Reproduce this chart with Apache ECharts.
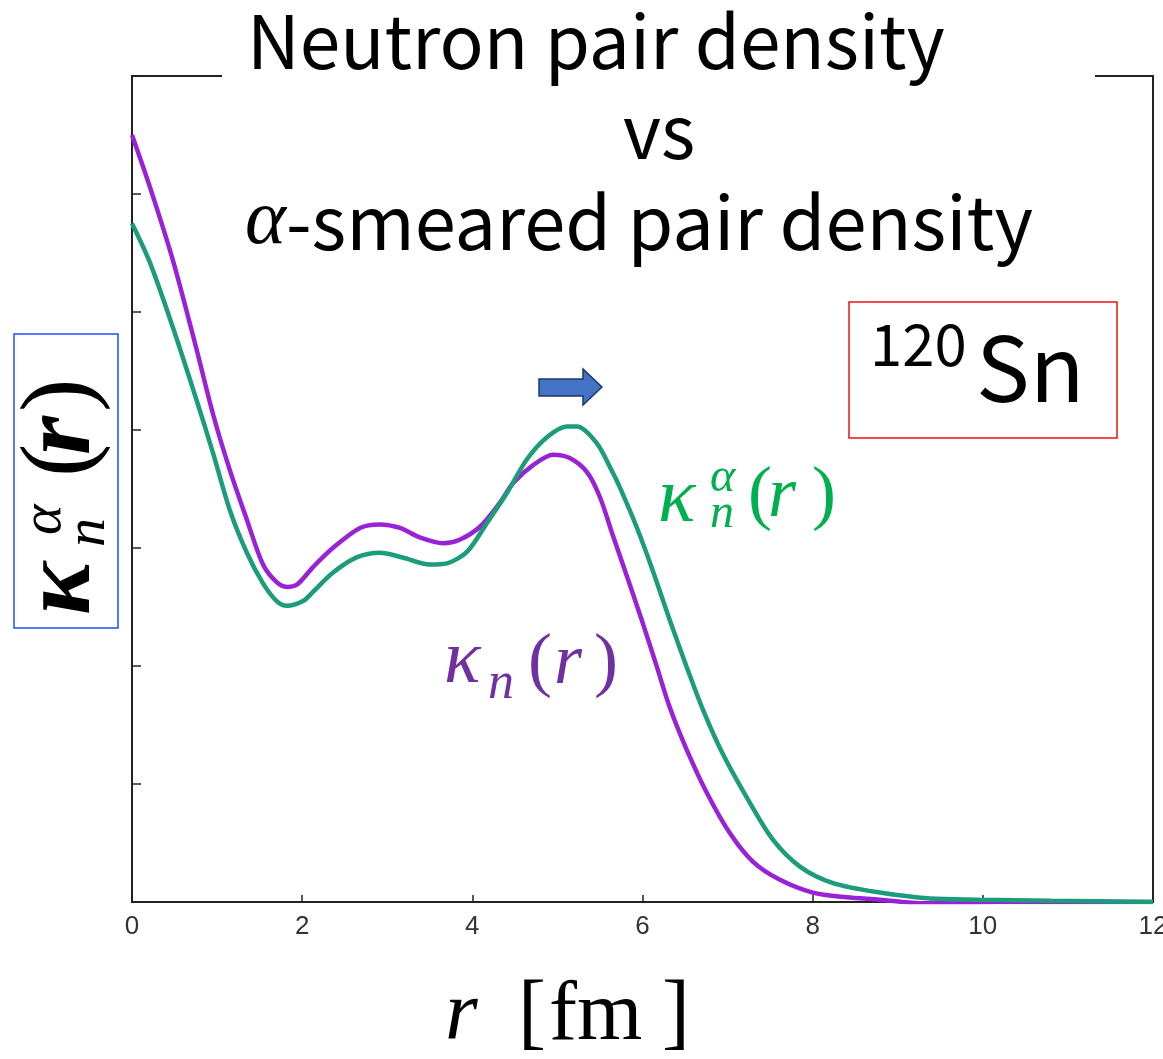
<!DOCTYPE html>
<html>
<head>
<meta charset="utf-8">
<script src="https://cdn.jsdelivr.net/npm/echarts@6/dist/echarts.min.js"></script>
<style>
html,body{margin:0;padding:0;background:#fff;}
#chart{width:1163px;height:1059px;}
</style>
</head>
<body>
<div id="chart"></div>
<script>
// Neutron pair density kappa_n(r)  (purple)
const rPair = [0, 0.21, 0.48, 0.76, 0.95, 1.15, 1.35, 1.54, 1.70, 1.82, 1.94, 2.13, 2.36, 2.68, 2.91, 3.15, 3.38, 3.66, 3.85, 4.09, 4.32, 4.48, 4.71, 4.95, 5.15, 5.35, 5.50, 5.65, 5.85, 6.00, 6.17, 6.32, 6.52, 6.76, 7.03, 7.30, 7.61, 8.00, 8.40, 8.79, 9.26, 9.73, 10.2, 11.0, 12.0];
const kappaN = [6.50, 6.06, 5.44, 4.68, 4.14, 3.66, 3.24, 2.86, 2.71, 2.67, 2.69, 2.84, 3.00, 3.17, 3.20, 3.17, 3.09, 3.04, 3.07, 3.18, 3.38, 3.55, 3.70, 3.79, 3.76, 3.64, 3.43, 3.11, 2.69, 2.37, 1.99, 1.65, 1.29, 0.92, 0.58, 0.34, 0.19, 0.08, 0.04, 0.02, -0.01, -0.01, 0.0, 0.0, 0.0];
// alpha-smeared pair density kappa_n^alpha(r)  (green)
const rSmeared = [0, 0.21, 0.48, 0.76, 0.95, 1.15, 1.35, 1.54, 1.70, 1.82, 2.01, 2.13, 2.36, 2.64, 2.91, 3.18, 3.50, 3.70, 3.94, 4.17, 4.41, 4.64, 4.88, 5.11, 5.23, 5.46, 5.65, 5.73, 5.93, 6.12, 6.32, 6.52, 6.71, 6.94, 7.23, 7.53, 7.85, 8.24, 8.79, 9.38, 9.96, 10.8, 12.0];
const kappaAlpha = [5.75, 5.42, 4.87, 4.25, 3.81, 3.32, 2.96, 2.70, 2.55, 2.51, 2.55, 2.63, 2.79, 2.92, 2.96, 2.92, 2.86, 2.87, 2.97, 3.21, 3.47, 3.75, 3.94, 4.03, 4.03, 3.89, 3.64, 3.52, 3.18, 2.81, 2.39, 1.99, 1.63, 1.26, 0.88, 0.53, 0.30, 0.16, 0.08, 0.03, 0.02, 0.01, 0.0];
const xTicks = [0, 2, 4, 6, 8, 10, 12];

const chart = echarts.init(document.getElementById('chart'));
const serif = '"Liberation Serif", "DejaVu Serif", serif';
const sans = '"Noto Sans CJK JP", "Noto Sans", sans-serif';

function txt(x, y, text, size, color, opts) {
  return Object.assign({
    type: 'text', x: x, y: y, z: 110,
    style: Object.assign({text: text, fontSize: size, fill: color, fontFamily: serif,
      align: 'left', verticalAlign: 'middle'}, (opts && opts.style) || {})
  }, (opts && opts.el) || {});
}
const it = {style: {fontStyle: 'italic'}};
const bi = {style: {fontStyle: 'italic', fontWeight: 'bold'}};

const option = {
  backgroundColor: '#fff',
  animation: false,
  grid: {left: 132, right: 10, top: 76, bottom: 157, show: true, borderColor: '#222', borderWidth: 2,
    containLabel: false, outerBoundsMode: 'none'},
  xAxis: {
    type: 'value', min: 0, max: 12, interval: 2,
    axisLine: {show: true, lineStyle: {color: '#222', width: 2}},
    axisTick: {show: true, inside: true, length: 7, lineStyle: {color: '#222', width: 1.5}},
    axisLabel: {color: '#333', fontSize: 26, fontFamily: '"Liberation Sans", Arial, sans-serif', margin: 12,
      formatter: v => xTicks.indexOf(v) >= 0 ? String(v) : ''},
    splitLine: {show: false}
  },
  yAxis: {
    type: 'value', min: 0, max: 7, interval: 1,
    axisLine: {show: true, lineStyle: {color: '#222', width: 2}},
    axisTick: {show: true, inside: true, length: 9, lineStyle: {color: '#222', width: 1.5}},
    axisLabel: {show: false},
    splitLine: {show: false}
  },
  series: [
    {type: 'line', name: 'kappa_n', data: rPair.map((r, i) => [r, kappaN[i]]), showSymbol: false, smooth: 0.3,
      lineStyle: {color: '#9a22d6', width: 4.5}, z: 3},
    {type: 'line', name: 'kappa_n_alpha', data: rSmeared.map((r, i) => [r, kappaAlpha[i]]), showSymbol: false, smooth: 0.3,
      lineStyle: {color: '#1b9c7a', width: 4.5}, z: 4}
  ],
  graphic: [
    // gap in top frame behind the title
    {type: 'rect', z: 100, shape: {x: 222, y: 68, width: 873, height: 16}, style: {fill: '#fff'}},
    // title
    txt(247, 41, 'Neutron pair density', 73, '#000', {style: {fontFamily: sans}}),
    txt(623, 131, 'vs', 73, '#000', {style: {fontFamily: sans}}),
    {type: 'text', x: 245, y: 222, z: 110, style: {
      text: '{a|α}-smeared pair density', fontFamily: sans, fontSize: 74, fill: '#000',
      verticalAlign: 'middle',
      rich: {a: {fontFamily: serif, fontStyle: 'italic', fontSize: 78, fill: '#000'}}
    }},
    // y-axis label box
    {type: 'rect', z: 100, shape: {x: 14, y: 334, width: 104, height: 294}, style: {fill: 'none', stroke: '#1f4fff', lineWidth: 1.5}},
    {type: 'group', x: 63, y: 615, rotation: Math.PI / 2, z: 110, children: [
      txt(0, 0, 'κ', 100, '#000', bi),
      txt(80, -18, 'α', 58, '#000', it),
      txt(68, 26, 'n', 58, '#000', it),
      txt(138, 0, '(', 100, '#000'),
      txt(160, 0, 'r', 100, '#000', bi),
      txt(203, 0, ')', 100, '#000')
    ]},
    // 120Sn box
    {type: 'rect', z: 100, shape: {x: 849, y: 302, width: 268, height: 136}, style: {fill: 'none', stroke: '#ee1111', lineWidth: 1.5}},
    txt(870, 344, '120', 58, '#000', {style: {fontFamily: sans}}),
    txt(976, 368, 'Sn', 90, '#000', {style: {fontFamily: sans}}),
    // arrow
    {type: 'polygon', z: 100, shape: {points: [[539, 379], [583, 379], [583, 369], [602, 387], [583, 405], [583, 396], [539, 396]]},
      style: {fill: '#4472c4', stroke: '#1f3864', lineWidth: 1.5}},
    // green label kappa_n^alpha(r)
    txt(658, 500, 'κ', 78, '#00b050', it),
    txt(710, 478, 'α', 48, '#00b050', it),
    txt(710, 514, 'n', 48, '#00b050', it),
    txt(748, 497, '(', 72, '#00b050'),
    txt(768, 497, 'r', 72, '#00b050', it),
    txt(812, 497, ')', 72, '#00b050'),
    // purple label kappa_n(r)
    txt(444, 662, 'κ', 76, '#7030a0', it),
    txt(488, 684, 'n', 52, '#7030a0', it),
    txt(528, 664, '(', 72, '#7030a0'),
    txt(554, 664, 'r', 72, '#7030a0', it),
    txt(594, 664, ')', 72, '#7030a0'),
    // x axis label
    txt(445, 1017, 'r', 84, '#000', it),
    txt(518, 1017, '[', 84, '#000'),
    txt(549, 1017, 'fm', 84, '#000'),
    txt(662, 1017, ']', 84, '#000')
  ]
};
chart.setOption(option);
</script>
</body>
</html>
